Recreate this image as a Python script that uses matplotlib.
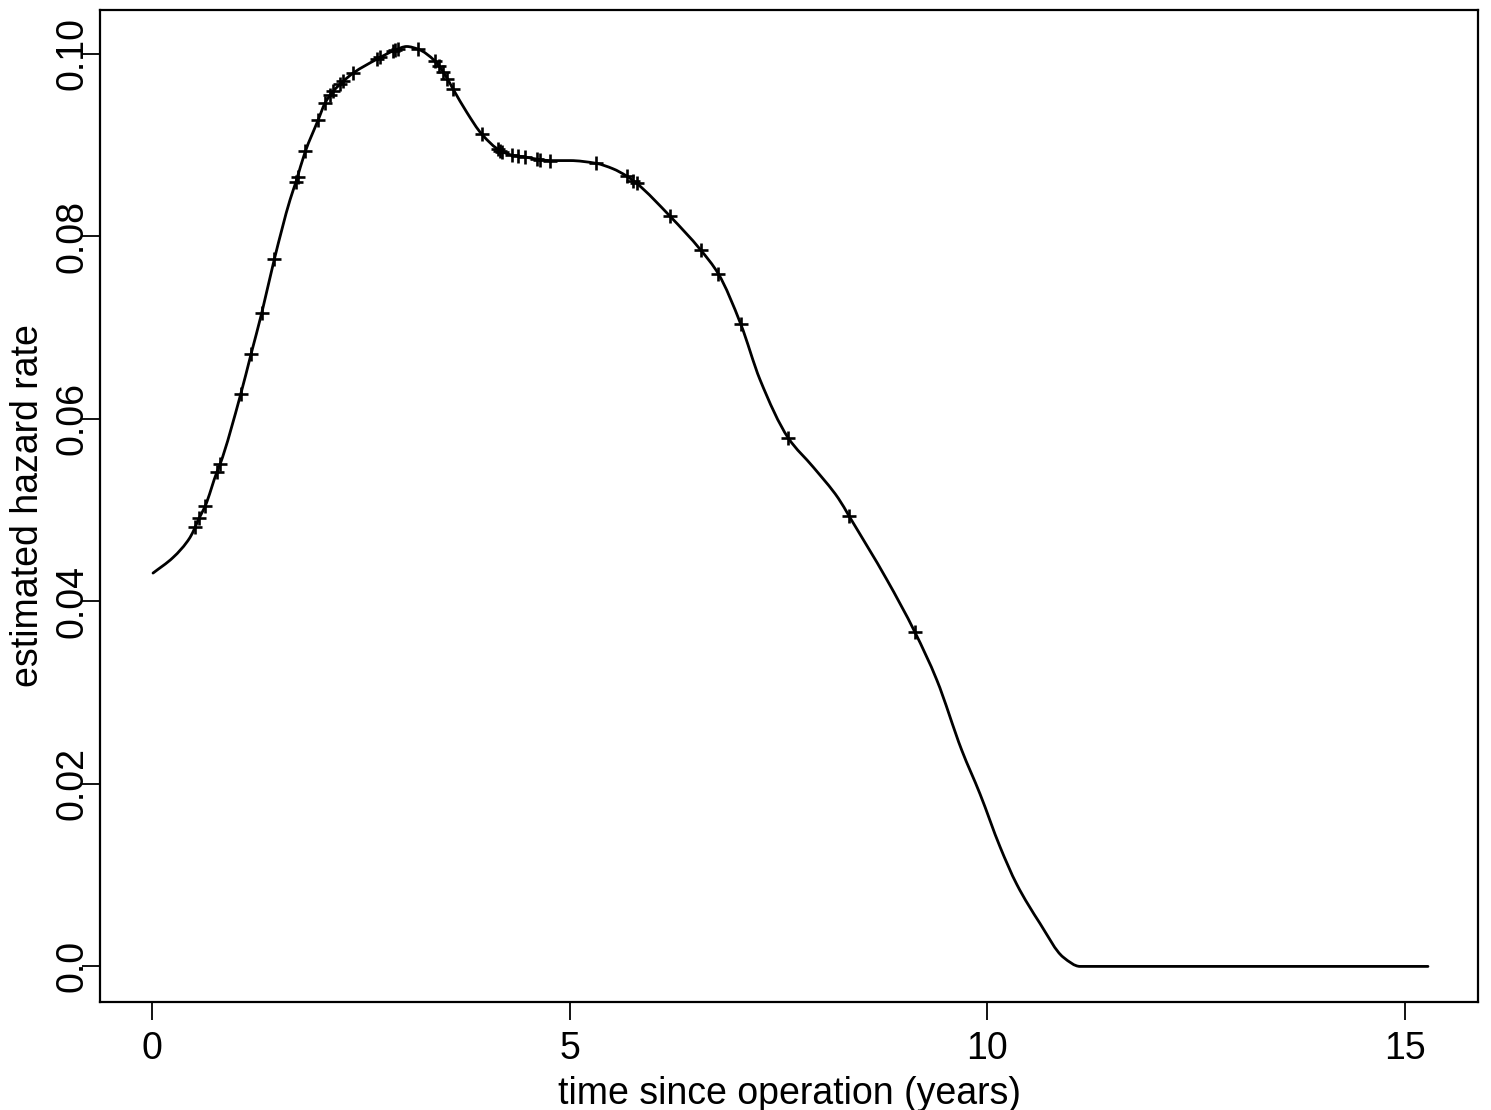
import numpy as np
import matplotlib
matplotlib.use("Agg")
import matplotlib.pyplot as plt
from matplotlib import font_manager
from matplotlib.path import Path
from matplotlib.patches import PathPatch

# Smoothed hazard estimate: time (years) and estimated hazard rate
time_years = [0.012, 0.251, 0.455, 0.515, 0.563, 0.635, 0.778, 0.814, 1.062, 1.186,
              1.314, 1.465, 1.653, 1.725, 1.832, 1.992, 2.072, 2.171, 2.291, 2.411,
              2.691, 2.910, 3.050, 3.189, 3.389, 3.489, 3.608, 3.769, 3.949, 4.168,
              4.308, 4.467, 4.647, 4.778, 5.006, 5.317, 5.521, 5.685, 5.805, 6.204,
              6.571, 6.782, 7.050, 7.281, 7.620, 7.920, 8.219, 8.351, 8.799, 9.138,
              9.398, 9.697, 9.916, 10.156, 10.356, 10.635, 10.914, 11.114, 15.281]
hazard = [0.0431, 0.0448, 0.0470, 0.0481, 0.0491, 0.0504, 0.0542, 0.0550, 0.0627, 0.0671,
          0.0716, 0.0775, 0.0840, 0.0860, 0.0892, 0.0928, 0.0946, 0.0959, 0.0970, 0.0979,
          0.0994, 0.1004, 0.1008, 0.1005, 0.0992, 0.0980, 0.0961, 0.0936, 0.0912, 0.0894,
          0.0889, 0.0887, 0.0884, 0.0883, 0.0883, 0.0880, 0.0874, 0.0866, 0.0858, 0.0822,
          0.0785, 0.0759, 0.0704, 0.0643, 0.0579, 0.0547, 0.0513, 0.0493, 0.0424, 0.0366,
          0.0314, 0.0237, 0.0189, 0.0131, 0.0090, 0.0047, 0.0010, 0.0, 0.0]

# Observed event times marked on the curve
event_times = [0.515, 0.563, 0.635, 0.778, 0.814, 1.062, 1.186, 1.314, 1.465, 1.725,
               1.743, 1.838, 1.992, 2.072, 2.132, 2.171, 2.251, 2.291, 2.411, 2.691,
               2.731, 2.886, 2.910, 2.950, 3.189, 3.389, 3.441, 3.489, 3.537, 3.608,
               3.949, 4.144, 4.168, 4.192, 4.308, 4.387, 4.467, 4.607, 4.647, 4.766,
               5.317, 5.685, 5.764, 5.805, 6.204, 6.571, 6.782, 7.050, 7.620, 8.351,
               9.138]

x_ticks = [0, 5, 10, 15]
x_tick_labels = ["0", "5", "10", "15"]
y_ticks = [0.0, 0.02, 0.04, 0.06, 0.08, 0.10]
y_tick_labels = ["0.0", "0.02", "0.04", "0.06", "0.08", "0.10"]


def monotone_slopes(x, y):
    """Fritsch-Carlson tangents so the drawn curve never overshoots."""
    h = np.diff(x)
    d = np.diff(y) / h
    m = np.zeros_like(y)
    m[0], m[-1] = d[0], d[-1]
    for k in range(1, len(x) - 1):
        if d[k - 1] * d[k] > 0:
            w1 = 2 * h[k] + h[k - 1]
            w2 = h[k] + 2 * h[k - 1]
            m[k] = (w1 + w2) / (w1 / d[k - 1] + w2 / d[k])
    return m


def smooth_path(x, y, m):
    verts = [(x[0], y[0])]
    codes = [Path.MOVETO]
    for k in range(len(x) - 1):
        h = x[k + 1] - x[k]
        verts += [(x[k] + h / 3, y[k] + m[k] * h / 3),
                  (x[k + 1] - h / 3, y[k + 1] - m[k + 1] * h / 3),
                  (x[k + 1], y[k + 1])]
        codes += [Path.CURVE4] * 3
    return Path(verts, codes)


def curve_at(t, x, y, m):
    k = np.clip(np.searchsorted(x, t) - 1, 0, len(x) - 2)
    h = x[k + 1] - x[k]
    s = (t - x[k]) / h
    return ((2 * s**3 - 3 * s**2 + 1) * y[k] + (s**3 - 2 * s**2 + s) * h * m[k]
            + (-2 * s**3 + 3 * s**2) * y[k + 1] + (s**3 - s**2) * h * m[k + 1])


installed = {f.name for f in font_manager.fontManager.ttflist}
family = [f for f in ["Liberation Sans", "DejaVu Sans"] if f in installed]
plt.rcParams["font.family"] = family

fig = plt.figure(figsize=(14.91, 11.10), dpi=100)
ax = fig.add_axes([100 / 1491, 1 - 1002 / 1110, 1378 / 1491, 992 / 1110])

tx = np.asarray(time_years, dtype=float)
hz = np.asarray(hazard, dtype=float)
slopes = monotone_slopes(tx, hz)

ax.add_patch(PathPatch(smooth_path(tx, hz, slopes), facecolor="none",
                       edgecolor="black", linewidth=2.0, capstyle="round",
                       joinstyle="round"))
ev = np.asarray(event_times, dtype=float)
ax.plot(ev, curve_at(ev, tx, hz, slopes), linestyle="none", marker="+",
        color="black", markersize=9.5, markeredgewidth=1.9)

ax.set_xlim(-0.623, 15.88)
ax.set_ylim(-0.0039, 0.1048)

ax.set_xticks(x_ticks)
ax.set_xticklabels(x_tick_labels)
ax.set_yticks(y_ticks)
ax.set_yticklabels(y_tick_labels, rotation=90, va="center")

ax.tick_params(axis="both", direction="out", length=13, width=1.3,
               labelsize=27, color="black")
ax.tick_params(axis="x", pad=8)
ax.tick_params(axis="y", pad=-6)

for spine in ax.spines.values():
    spine.set_linewidth(1.6)

ax.set_xlabel("time since operation (years)", fontsize=27, labelpad=6)
ax.set_ylabel("estimated hazard rate", fontsize=27)
ax.yaxis.set_label_coords(-0.039, 0.5)

fig.savefig("out.png", dpi=100)
